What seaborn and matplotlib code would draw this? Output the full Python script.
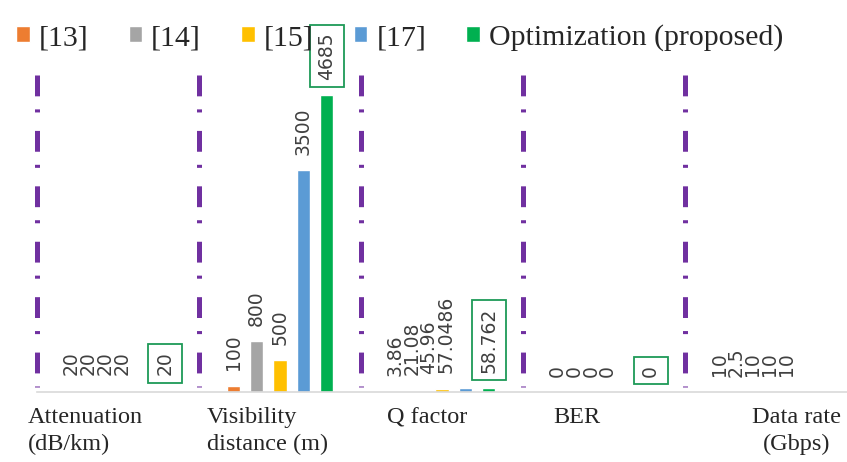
import matplotlib
matplotlib.use("Agg")
import matplotlib.pyplot as plt
import pandas as pd
import seaborn as sns

# categories and series
metrics = ["Attenuation\n(dB/km)", "Visibility\ndistance (m)", "Q factor", "BER", "Data rate\n(Gbps)"]
sources = ["[13]", "[14]", "[15]", "[17]", "Optimization (proposed)"]

ref13 = [20, 100, 3.86, 0, 10]
ref14 = [20, 800, 21.08, 0, 2.5]
ref15 = [20, 500, 45.96, 0, 10]
ref17 = [20, 3500, 57.0486, 0, 10]
proposed = [20, 4685, 58.762, 0, 10]

colors = ["#ED7D31", "#A5A5A5", "#FFC000", "#5B9BD5", "#00B050"]

# label layout (Excel-style hand placed)
boxed = [True, True, True, True, False]
compressed = [True, False, True, True, True]
name_offset = [-0.555, -0.45, -0.34, -0.31, 0.19]
name_align = ["left", "left", "left", "left", "center"]

rows = []
for src, vals in zip(sources, [ref13, ref14, ref15, ref17, proposed]):
    for m, v in zip(metrics, vals):
        rows.append({"metric": m, "source": src, "value": v})
df = pd.DataFrame(rows)

sns.set_theme(style="white")
plt.rcParams["lines.scale_dashes"] = False

fig = plt.figure(figsize=(8.47, 4.62), dpi=100)
ax = fig.add_axes([37 / 847, 1 - 392 / 462, 810 / 847, 317 / 462])

sns.barplot(data=df, x="metric", y="value", hue="source", order=metrics,
            hue_order=sources, palette=dict(zip(sources, colors)),
            saturation=1, width=0.72, gap=0.44, ax=ax)

ax.set_xlim(-0.5, 4.5)
ax.set_ylim(0, 5000)
ax.set_xlabel("")
ax.set_ylabel("")
ax.set_yticks([])
ax.set_xticks(range(len(metrics)))
ax.set_xticklabels([])
ax.tick_params(length=0)
for s in ["top", "right", "left"]:
    ax.spines[s].set_visible(False)
ax.spines["bottom"].set_color("#D9D9D9")
ax.spines["bottom"].set_linewidth(1.2)

# purple dash-dot separators
for i in range(len(metrics)):
    ax.plot([i - 0.5, i - 0.5], [1, 0.015], transform=ax.get_xaxis_transform(),
            color="#7030A0", lw=3.6, linestyle=(0, (15, 9.4, 2.2, 13.3)),
            dash_capstyle="butt", solid_capstyle="butt", clip_on=False, zorder=1)

# data labels
for k, cont in enumerate(ax.containers):
    for i, bar in enumerate(cont):
        x0 = ax.containers[0][i].get_x() + ax.containers[0][i].get_width() / 2
        x1 = ax.containers[1][i].get_x() + ax.containers[1][i].get_width() / 2
        slot = x1 - x0
        xc = bar.get_x() + bar.get_width() / 2
        is_box = boxed[i] and k == len(sources) - 1
        if compressed[i] and not is_box:
            xc = x0 + k * 0.72 * slot
        h = bar.get_height()
        box = None
        if is_box:
            box = dict(boxstyle="square,pad=0.4", fc="white", ec="#1E9A57", lw=1.3)
        ax.annotate(f"{h:g}", (xc, h), xytext=(0, 11), textcoords="offset points",
                    rotation=90, ha="center", va="bottom", fontsize=13.5,
                    color="#404040", family="DejaVu Sans", bbox=box,
                    annotation_clip=False, zorder=5)

# category names under the axis
for i, name in enumerate(metrics):
    ax.annotate(name, (i + name_offset[i], 0), xycoords=ax.get_xaxis_transform(),
                xytext=(0, -11), textcoords="offset points", ha=name_align[i],
                va="top", multialignment=name_align[i], fontsize=17.5,
                family="Liberation Serif", color="#262626", linespacing=1.35,
                annotation_clip=False)

sns.move_legend(ax, "center", bbox_to_anchor=(0.472, 0.918),
                bbox_transform=fig.transFigure, ncol=5, frameon=False, title=None,
                handlelength=0.45, handleheight=0.45,
                handletextpad=0.3, columnspacing=1.35,
                prop={"family": "Liberation Serif", "size": 21.5})
for t in ax.get_legend().get_texts():
    t.set_color("#262626")

fig.savefig("out.png", dpi=100)
